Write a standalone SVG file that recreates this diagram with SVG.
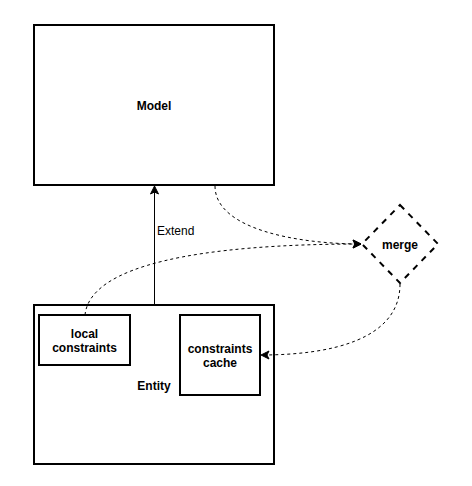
<svg xmlns="http://www.w3.org/2000/svg" width="472" height="486" viewBox="0 0 472 486">
<style>
.box{fill:#fff;stroke:#000;stroke-width:2}
.lbl{font-family:"Liberation Sans",Arial,sans-serif;font-size:12px;font-weight:bold;fill:#000;text-anchor:middle}
.plain{font-family:"Liberation Sans",Arial,sans-serif;font-size:12px;fill:#000}
.edge{fill:none;stroke:#000;stroke-width:1}
.dash{stroke-dasharray:3 3}
</style>
<defs>
<marker id="arr" viewBox="-9 -5 10 10" refX="0" refY="0" markerWidth="10" markerHeight="10" markerUnits="userSpaceOnUse" orient="auto">
<path d="M0,0 L-8,-4 L-6,0 L-8,4 Z" fill="#000" stroke="#000" stroke-width="1" stroke-dasharray="none"/>
</marker>
</defs>
<rect width="472" height="486" fill="#fff"/>
<g id="model">
<rect class="box" x="34" y="25" width="240" height="160"/>
<text class="lbl" x="154" y="110">Model</text>
</g>
<g id="entity">
<rect class="box" x="34" y="305" width="240" height="159"/>
<text class="lbl" x="154" y="390">Entity</text>
</g>
<g id="local-constraints">
<rect class="box" x="39" y="315" width="91" height="50"/>
<text class="lbl" x="84.5" y="337.5">local</text>
<text class="lbl" x="84.5" y="351.5">constraints</text>
</g>
<g id="constraints-cache">
<rect class="box" x="180" y="315" width="80" height="80"/>
<text class="lbl" x="220" y="352.5">constraints</text>
<text class="lbl" x="220" y="366.5">cache</text>
</g>
<g id="merge">
<polygon points="400,205 438,244 400,283 362,244" fill="#fff" stroke="#000" stroke-width="2" stroke-dasharray="6 6"/>
<text class="lbl" x="400" y="249">merge</text>
</g>
<g id="connectors">
<path class="edge" d="M154.5,305 L154.5,186" marker-end="url(#arr)"/>
<text class="plain" x="157" y="235">Extend</text>
<path class="edge dash" d="M215,186 C215,230 300,244 361,244" marker-end="url(#arr)"/>
<path class="edge dash" d="M85,315 C90,265 200,244 361,244" marker-end="url(#arr)"/>
<path class="edge dash" d="M400,284 C400,340 330,355 261,355" marker-end="url(#arr)"/>
</g>
</svg>
